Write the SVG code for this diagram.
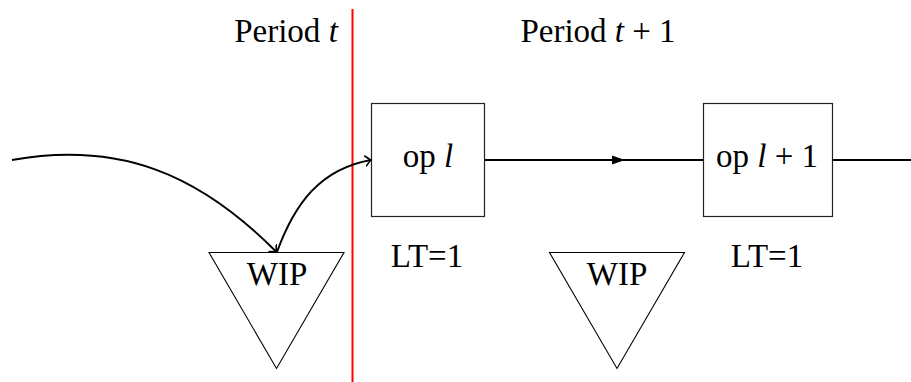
<svg xmlns="http://www.w3.org/2000/svg" width="911" height="382" viewBox="0 0 911 382">
  <style>
    .lbl { font-family: "Liberation Serif", "DejaVu Serif", serif; font-size: 33px; fill: #000; }
    .it { font-style: italic; }
    .box { fill: #fff; stroke: #222; stroke-width: 1.2; }
    .tri { fill: #fff; stroke: #000; stroke-width: 1.1; }
    .flow { fill: none; stroke: #000; stroke-width: 2; }
  </style>
  <defs>
    <marker id="open" viewBox="-6 -6 8 12" markerWidth="8" markerHeight="12" refX="0" refY="0" orient="auto" markerUnits="userSpaceOnUse">
      <path d="M -5.5,-5 Q -1.5,-1 0,0 Q -1.5,1 -5.5,5" fill="none" stroke="#000" stroke-width="1.6" stroke-linecap="round"/>
    </marker>
  </defs>

  <!-- period boundary -->
  <line x1="352.5" y1="9" x2="352.5" y2="382" stroke="#ff0000" stroke-width="2"/>
  <text class="lbl" x="286" y="42" text-anchor="middle">Period <tspan class="it">t</tspan></text>
  <text class="lbl" x="598" y="42" text-anchor="middle">Period <tspan class="it">t</tspan> + 1</text>

  <!-- operations -->
  <g id="op1">
    <rect class="box" x="371.5" y="103.5" width="113" height="113"/>
    <text class="lbl" x="428" y="167" text-anchor="middle">op <tspan class="it">l</tspan></text>
    <text class="lbl" x="427" y="267" text-anchor="middle">LT=1</text>
  </g>
  <g id="op2">
    <rect class="box" x="703.5" y="103.5" width="129" height="113"/>
    <text class="lbl" x="767" y="167" text-anchor="middle">op <tspan class="it">l</tspan> + 1</text>
    <text class="lbl" x="767" y="267" text-anchor="middle">LT=1</text>
  </g>

  <!-- work-in-process buffers -->
  <g id="wip1">
    <polygon class="tri" points="209,252.5 344,252.5 276.5,368.5"/>
    <text class="lbl" x="277" y="285" text-anchor="middle">WIP</text>
  </g>
  <g id="wip2">
    <polygon class="tri" points="549.5,252.5 684.5,252.5 617,368.5"/>
    <text class="lbl" x="617" y="285" text-anchor="middle">WIP</text>
  </g>

  <!-- connectors -->
  <g id="connectors">
    <path class="flow" d="M 12,160 C 120,141 199,174 276.5,252" marker-end="url(#open)"/>
    <path class="flow" d="M 277,252 C 294.6,203.6 320.3,168.9 371,160" marker-end="url(#open)"/>
    <line class="flow" x1="485" y1="160" x2="703" y2="160"/>
    <polygon points="612,155.5 625,160 612,164.5" fill="#000"/>
    <line class="flow" x1="832" y1="160" x2="911" y2="160"/>
  </g>
</svg>
